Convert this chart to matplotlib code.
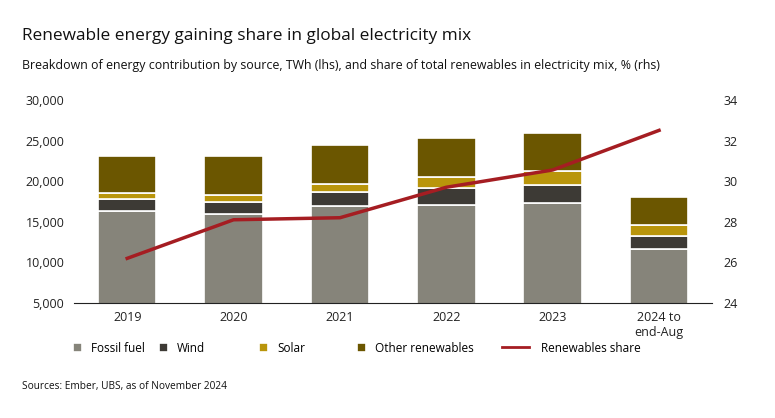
import matplotlib.pyplot as plt
import numpy as np

plt.rcParams['font.family'] = ['Open Sans', 'DejaVu Sans']

years = ["2019", "2020", "2021", "2022", "2023", "2024 to\nend-Aug"]
fossil = [16300, 15900, 16900, 17100, 17300, 11600]
wind = [1500, 1500, 1800, 2100, 2200, 1650]
solar = [700, 900, 1000, 1300, 1700, 1350]
other = [4600, 4800, 4800, 4800, 4700, 3400]
share = [26.2, 28.1, 28.2, 29.7, 30.55, 32.5]

colors = {"Fossil fuel": "#86847a", "Wind": "#3d3a35", "Solar": "#b9950b", "Other renewables": "#6b5600"}
line_color = "#a51d22"

fig = plt.figure(figsize=(7.75, 4.18), dpi=100)
ax = fig.add_axes([0.0955, 0.275, 0.8235, 0.486])
x = np.arange(len(years))

bottom = np.zeros(len(years))
for name, vals in [("Fossil fuel", fossil), ("Wind", wind), ("Solar", solar), ("Other renewables", other)]:
    ax.bar(x, vals, 0.55, bottom=bottom, color=colors[name], edgecolor="white", linewidth=1.2, label=name)
    bottom += np.array(vals)

ax.set_ylim(5000, 30000)
ax.set_yticks(range(5000, 30001, 5000))
ax.set_yticklabels([f"{v:,}" for v in range(5000, 30001, 5000)])
ax.set_xlim(-0.5, 5.5)
ax.set_xticks(x)
ax.set_xticklabels(years)
for s in ["top", "right", "left"]:
    ax.spines[s].set_visible(False)
ax.spines["bottom"].set_color("#222222")
ax.tick_params(length=0, labelsize=9, colors="#222222")
ax.tick_params(axis="y", pad=7)
ax.tick_params(axis="x", pad=6)

ax2 = ax.twinx()
ax2.plot(x, share, color=line_color, linewidth=2.5, label="Renewables share")
ax2.set_ylim(24, 34)
ax2.set_yticks(range(24, 35, 2))
for s in ["top", "right", "left", "bottom"]:
    ax2.spines[s].set_visible(False)
ax2.tick_params(length=0, labelsize=9, colors="#222222", pad=8)

# legend entries placed one by one, like the original layout
h1, l1 = ax.get_legend_handles_labels()
h2, l2 = ax2.get_legend_handles_labels()
leg_x = [73, 159, 259, 357, 502]
for h, l, lx in zip(h1 + h2, l1 + l2, leg_x):
    is_line = l == "Renewables share"
    leg = fig.legend([h], [l], loc="center left", bbox_to_anchor=(lx / 775, 1 - 348 / 418),
                     frameon=False, fontsize=8.5, borderpad=0, borderaxespad=0,
                     handlelength=2.3 if is_line else 0.75, handleheight=0.75,
                     handletextpad=1.0 if is_line else 0.8)
    if is_line:
        leg.legend_handles[0].set_linewidth(2)

fig.text(0.028, 0.904, "Renewable energy gaining share in global electricity mix", fontsize=12.4, color="#111111")
fig.text(0.028, 0.836, "Breakdown of energy contribution by source, TWh (lhs), and share of total renewables in electricity mix, % (rhs)",
         fontsize=8.9, color="#111111")
fig.text(0.028, 0.07, "Sources: Ember, UBS, as of November 2024", fontsize=7.3, color="#111111")

plt.savefig("out.png", dpi=100)
